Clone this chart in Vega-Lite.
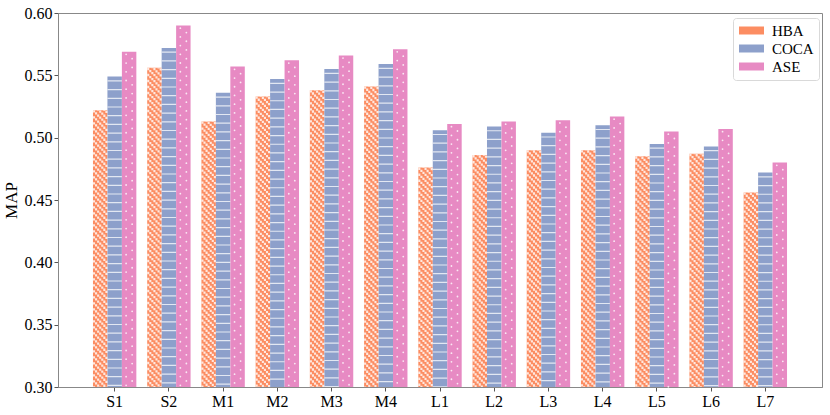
{
  "$schema": "https://vega.github.io/schema/vega-lite/v6.json",
  "width": 764,
  "height": 374,
  "autosize": {"type": "none"},
  "padding": {"left": 58, "top": 13, "right": 8, "bottom": 28},
  "config": {
    "font": "Liberation Serif",
    "view": {"stroke": "#888888", "strokeWidth": 1},
    "axis": {
      "labelFont": "Liberation Serif",
      "labelFontSize": 16,
      "labelColor": "#000000",
      "tickColor": "#555555",
      "tickSize": 4,
      "domainColor": "#888888",
      "grid": false,
      "titleFont": "Liberation Serif",
      "titleFontWeight": "normal",
      "titleColor": "#000000"
    }
  },
  "data": {
    "values": [
      {"cat": "S1", "method": "HBA", "map": 0.522},
      {"cat": "S1", "method": "COCA", "map": 0.549},
      {"cat": "S1", "method": "ASE", "map": 0.569},
      {"cat": "S2", "method": "HBA", "map": 0.556},
      {"cat": "S2", "method": "COCA", "map": 0.572},
      {"cat": "S2", "method": "ASE", "map": 0.590},
      {"cat": "M1", "method": "HBA", "map": 0.513},
      {"cat": "M1", "method": "COCA", "map": 0.536},
      {"cat": "M1", "method": "ASE", "map": 0.557},
      {"cat": "M2", "method": "HBA", "map": 0.533},
      {"cat": "M2", "method": "COCA", "map": 0.547},
      {"cat": "M2", "method": "ASE", "map": 0.562},
      {"cat": "M3", "method": "HBA", "map": 0.538},
      {"cat": "M3", "method": "COCA", "map": 0.555},
      {"cat": "M3", "method": "ASE", "map": 0.566},
      {"cat": "M4", "method": "HBA", "map": 0.541},
      {"cat": "M4", "method": "COCA", "map": 0.559},
      {"cat": "M4", "method": "ASE", "map": 0.571},
      {"cat": "L1", "method": "HBA", "map": 0.476},
      {"cat": "L1", "method": "COCA", "map": 0.506},
      {"cat": "L1", "method": "ASE", "map": 0.511},
      {"cat": "L2", "method": "HBA", "map": 0.486},
      {"cat": "L2", "method": "COCA", "map": 0.509},
      {"cat": "L2", "method": "ASE", "map": 0.513},
      {"cat": "L3", "method": "HBA", "map": 0.490},
      {"cat": "L3", "method": "COCA", "map": 0.504},
      {"cat": "L3", "method": "ASE", "map": 0.514},
      {"cat": "L4", "method": "HBA", "map": 0.490},
      {"cat": "L4", "method": "COCA", "map": 0.510},
      {"cat": "L4", "method": "ASE", "map": 0.517},
      {"cat": "L5", "method": "HBA", "map": 0.485},
      {"cat": "L5", "method": "COCA", "map": 0.495},
      {"cat": "L5", "method": "ASE", "map": 0.505},
      {"cat": "L6", "method": "HBA", "map": 0.487},
      {"cat": "L6", "method": "COCA", "map": 0.493},
      {"cat": "L6", "method": "ASE", "map": 0.507},
      {"cat": "L7", "method": "HBA", "map": 0.456},
      {"cat": "L7", "method": "COCA", "map": 0.472},
      {"cat": "L7", "method": "ASE", "map": 0.480}
    ]
  },
  "encoding": {
    "y": {
      "field": "map",
      "type": "quantitative",
      "title": "MAP",
      "scale": {"domain": [0.3, 0.6], "zero": false, "nice": false},
      "axis": {"values": [0.3, 0.35, 0.4, 0.45, 0.5, 0.55, 0.6], "format": ".2f", "labelFont": "Liberation Serif", "labelFontSize": 16, "titleFontSize": 17, "titlePadding": 4, "labelPadding": 2}
    },
    "y2": {"datum": 0.3}
  },
  "layer": [
    {
      "mark": {"type": "bar"},
      "encoding": {
        "x": {
          "field": "cat", "type": "nominal", "title": null,
          "sort": ["S1", "S2", "M1", "M2", "M3", "M4", "L1", "L2", "L3", "L4", "L5", "L6", "L7"],
          "scale": {"paddingInner": 0.2, "paddingOuter": 0.645},
          "axis": {"labelAngle": 0, "labelPadding": 2, "labelFont": "Liberation Serif", "labelFontSize": 16}
        },
        "xOffset": {"field": "method", "type": "nominal", "sort": ["HBA", "COCA", "ASE"], "scale": {"paddingInner": 0, "paddingOuter": 0}},
        "fill": {
          "field": "method", "type": "nominal",
          "scale": {"domain": ["HBA", "COCA", "ASE"], "range": ["#fc8d62", "#8da0cb", "#e78ac3"]},
          "legend": {
            "title": null,
            "orient": "none",
            "legendX": 675,
            "legendY": 5,
            "padding": 5,
            "symbolType": "M-2.5,-0.8H2.5V0.8H-2.5Z",
            "symbolSize": 100,
            "symbolOffset": 6,
            "symbolStrokeWidth": 0,
            "labelOffset": 13,
            "labelFontSize": 15,
            "labelFont": "Liberation Serif",
            "rowPadding": 2,
            "strokeColor": "#d9d9d9",
            "fillColor": "#ffffff",
            "cornerRadius": 3
          }
        }
      }
    },
    {
      "transform": [{"filter": "datum.method == 'HBA'"}],
      "mark": {"type": "rule", "color": "#ffffff", "opacity": 0.8, "strokeWidth": 2.1, "strokeCap": "butt", "strokeDash": [2.3, 3.7], "strokeDashOffset": 0},
      "encoding": {"x": {"field": "cat", "type": "nominal", "title": null, "sort": ["S1", "S2", "M1", "M2", "M3", "M4", "L1", "L2", "L3", "L4", "L5", "L6", "L7"], "bandPosition": 0.0238, "axis": {"labelAngle": 0, "labelPadding": 2, "labelFont": "Liberation Serif", "labelFontSize": 16}}}
    },
    {
      "transform": [{"filter": "datum.method == 'HBA'"}],
      "mark": {"type": "rule", "color": "#ffffff", "opacity": 0.8, "strokeWidth": 2.1, "strokeCap": "butt", "strokeDash": [2.3, 3.7], "strokeDashOffset": 3.93},
      "encoding": {"x": {"field": "cat", "type": "nominal", "title": null, "sort": ["S1", "S2", "M1", "M2", "M3", "M4", "L1", "L2", "L3", "L4", "L5", "L6", "L7"], "bandPosition": 0.0714, "axis": {"labelAngle": 0, "labelPadding": 2, "labelFont": "Liberation Serif", "labelFontSize": 16}}}
    },
    {
      "transform": [{"filter": "datum.method == 'HBA'"}],
      "mark": {"type": "rule", "color": "#ffffff", "opacity": 0.8, "strokeWidth": 2.1, "strokeCap": "butt", "strokeDash": [2.3, 3.7], "strokeDashOffset": 1.86},
      "encoding": {"x": {"field": "cat", "type": "nominal", "title": null, "sort": ["S1", "S2", "M1", "M2", "M3", "M4", "L1", "L2", "L3", "L4", "L5", "L6", "L7"], "bandPosition": 0.119, "axis": {"labelAngle": 0, "labelPadding": 2, "labelFont": "Liberation Serif", "labelFontSize": 16}}}
    },
    {
      "transform": [{"filter": "datum.method == 'HBA'"}],
      "mark": {"type": "rule", "color": "#ffffff", "opacity": 0.8, "strokeWidth": 2.1, "strokeCap": "butt", "strokeDash": [2.3, 3.7], "strokeDashOffset": 5.79},
      "encoding": {"x": {"field": "cat", "type": "nominal", "title": null, "sort": ["S1", "S2", "M1", "M2", "M3", "M4", "L1", "L2", "L3", "L4", "L5", "L6", "L7"], "bandPosition": 0.1667, "axis": {"labelAngle": 0, "labelPadding": 2, "labelFont": "Liberation Serif", "labelFontSize": 16}}}
    },
    {
      "transform": [{"filter": "datum.method == 'HBA'"}],
      "mark": {"type": "rule", "color": "#ffffff", "opacity": 0.8, "strokeWidth": 2.1, "strokeCap": "butt", "strokeDash": [2.3, 3.7], "strokeDashOffset": 3.72},
      "encoding": {"x": {"field": "cat", "type": "nominal", "title": null, "sort": ["S1", "S2", "M1", "M2", "M3", "M4", "L1", "L2", "L3", "L4", "L5", "L6", "L7"], "bandPosition": 0.2143, "axis": {"labelAngle": 0, "labelPadding": 2, "labelFont": "Liberation Serif", "labelFontSize": 16}}}
    },
    {
      "transform": [{"filter": "datum.method == 'HBA'"}],
      "mark": {"type": "rule", "color": "#ffffff", "opacity": 0.8, "strokeWidth": 2.1, "strokeCap": "butt", "strokeDash": [2.3, 3.7], "strokeDashOffset": 1.65},
      "encoding": {"x": {"field": "cat", "type": "nominal", "title": null, "sort": ["S1", "S2", "M1", "M2", "M3", "M4", "L1", "L2", "L3", "L4", "L5", "L6", "L7"], "bandPosition": 0.2619, "axis": {"labelAngle": 0, "labelPadding": 2, "labelFont": "Liberation Serif", "labelFontSize": 16}}}
    },
    {
      "transform": [{"filter": "datum.method == 'HBA'"}],
      "mark": {"type": "rule", "color": "#ffffff", "opacity": 0.8, "strokeWidth": 2.1, "strokeCap": "butt", "strokeDash": [2.3, 3.7], "strokeDashOffset": 5.58},
      "encoding": {"x": {"field": "cat", "type": "nominal", "title": null, "sort": ["S1", "S2", "M1", "M2", "M3", "M4", "L1", "L2", "L3", "L4", "L5", "L6", "L7"], "bandPosition": 0.3095, "axis": {"labelAngle": 0, "labelPadding": 2, "labelFont": "Liberation Serif", "labelFontSize": 16}}}
    },
    {
      "transform": [{"filter": "datum.method == 'COCA'"}],
      "mark": {"type": "rule", "color": "#ffffff", "opacity": 0.75, "strokeWidth": 14.4, "strokeCap": "butt", "strokeDash": [1.2, 7.5], "strokeDashOffset": 5},
      "encoding": {"x": {"field": "cat", "type": "nominal", "title": null, "sort": ["S1", "S2", "M1", "M2", "M3", "M4", "L1", "L2", "L3", "L4", "L5", "L6", "L7"], "bandPosition": 0.5, "axis": {"labelAngle": 0, "labelPadding": 2, "labelFont": "Liberation Serif", "labelFontSize": 16}}}
    },
    {
      "transform": [{"filter": "datum.method == 'ASE'"}],
      "mark": {"type": "rule", "color": "#ffffff", "opacity": 0.8, "strokeWidth": 1.8, "strokeCap": "round", "strokeDash": [0.01, 8.7], "strokeDashOffset": 6},
      "encoding": {"x": {"field": "cat", "type": "nominal", "title": null, "sort": ["S1", "S2", "M1", "M2", "M3", "M4", "L1", "L2", "L3", "L4", "L5", "L6", "L7"], "bandPosition": 0.764, "axis": {"labelAngle": 0, "labelPadding": 2, "labelFont": "Liberation Serif", "labelFontSize": 16}}}
    },
    {
      "transform": [{"filter": "datum.method == 'ASE'"}],
      "mark": {"type": "rule", "color": "#ffffff", "opacity": 0.8, "strokeWidth": 1.8, "strokeCap": "round", "strokeDash": [0.01, 8.7], "strokeDashOffset": 1.65},
      "encoding": {"x": {"field": "cat", "type": "nominal", "title": null, "sort": ["S1", "S2", "M1", "M2", "M3", "M4", "L1", "L2", "L3", "L4", "L5", "L6", "L7"], "bandPosition": 0.903, "axis": {"labelAngle": 0, "labelPadding": 2, "labelFont": "Liberation Serif", "labelFontSize": 16}}}
    }
  ]
}
